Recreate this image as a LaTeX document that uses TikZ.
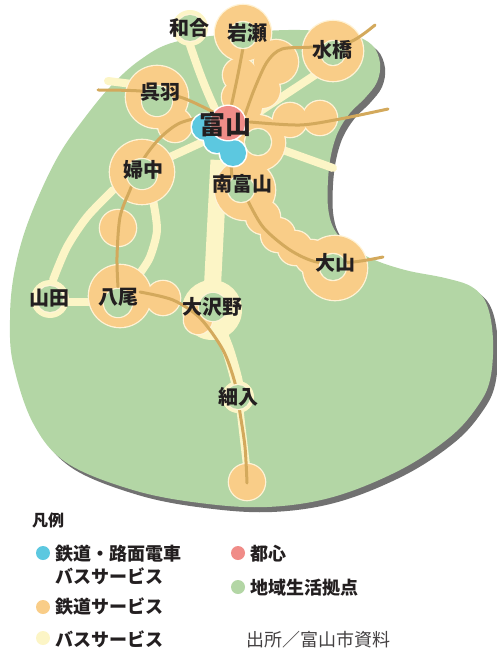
\documentclass[tikz,border=0pt]{standalone}
\usepackage{fontspec}
\setmainfont{Noto Sans CJK JP}
\definecolor{gr}{HTML}{B3D6A5}
\definecolor{og}{HTML}{F9CD88}
\definecolor{ye}{HTML}{FCF5C6}
\definecolor{tn}{HTML}{D3A95C}
\definecolor{bl}{HTML}{5CC8E0}
\definecolor{pk}{HTML}{F08C88}
\definecolor{cr}{HTML}{FFF3D6}
\definecolor{sh}{HTML}{717171}
\definecolor{tx}{HTML}{231F20}
\begin{document}
\begin{tikzpicture}[x=1pt,y=-1pt,
  bus/.style={ye,line width=8pt,line cap=round},
  rail/.style={tn,line width=3pt,line cap=round},
  lbl/.style={text=tx,font=\bfseries\fontsize{20}{20}\selectfont,inner sep=0pt},
  leg/.style={text=tx,font=\bfseries\fontsize{18}{18}\selectfont,inner sep=0pt,anchor=west},
]
\useasboundingbox (0,0) rectangle (497,652);
\def\blob{plot[smooth cycle,tension=0.6] coordinates {
 (175,42) (240,33) (300,30) (350,35) (372,45) (380,63) (377,82) (365,98)
 (350,113) (338,132) (331,155) (328,180) (328,207) (333,227) (345,242)
 (370,258) (405,270) (445,278) (472,287) (487,305) (493,340) (490,380)
 (477,407) (450,437) (400,470) (333,497) (267,507) (200,503) (133,490)
 (67,463) (33,423) (13,363) (10,320) (13,280) (23,237) (40,193) (60,153)
 (83,120) (110,87) (140,60)}}
% shadow and land
\begin{scope}[shift={(5,5)}]
 \fill[sh] \blob;
\end{scope}
\fill[gr] \blob;
% bus routes
\draw[bus] (190,45) .. controls (200,75) and (208,95) .. (218,115);
\draw[bus] (108,81) -- (140,85);
\draw[bus] (250,118) -- (318,73);
\draw[bus] (255,140) -- (333,168);
\draw[bus] (207,140) -- (170,157);
\draw[ye,line width=17pt] (219,160) -- (212,295);
\draw[bus] plot[smooth] coordinates {(113,190) (87,217) (67,247) (53,280)};
\draw[bus] (60,302) -- (95,302);
\draw[bus] plot[smooth] coordinates {(153,200) (157,230) (150,257) (140,273)};
\draw[ye,line width=12pt] plot[smooth] coordinates {(218,325) (228,350) (236,378) (239,395)};
\draw[ye,line width=7pt] (240,410) -- (247,470);
% yellow rings
\foreach \x/\y/\r in {190/28/18, 50/299/19, 212/310/30, 238/397/16}
  \fill[ye] (\x,\y) circle[radius=\r pt];
% orange circles
\def\oglist{243/33/28, 276/62/22, 240/75/17, 238/97/16, 262/90/18, 250/108/12,
 333/51/30, 290/120/17, 320/118/17, 157/97/31, 175/125/17, 142/172/32,
 118/228/18, 120/296/31, 163/298/17, 257/143/28, 245/190/30,
 263/217/17, 278/235/17, 295/248/17, 312/257/17, 335/268/32,
 198/320/14, 247/482/18}
\foreach \x/\y/\r in \oglist
  \fill[cr] (\x,\y) circle[radius={(\r+1.3)*1pt}];
\foreach \x/\y/\r in \oglist
  \fill[og] (\x,\y) circle[radius=\r pt];
% rails
\draw[rail] plot[smooth] coordinates {(98,90) (140,91) (180,97) (213,112)};
\draw[rail] (243,48) .. controls (238,75) .. (230,112);
\draw[rail] plot[smooth] coordinates {(375,25) (350,42) (313,47) (282,49) (267,62) (254,90) (245,115)};
\draw[rail] plot[smooth] coordinates {(250,122) (300,125) (340,119) (388,109)};
\draw[rail] plot[smooth] coordinates {(210,115) (180,123) (160,138) (143,160) (130,190) (120,217) (117,257) (118,287)};
\draw[rail] (229,140) -- (232,178);
\draw[rail] plot[smooth] coordinates {(246,197) (263,227) (290,250) (317,262) (353,262) (383,257)};
\draw[rail] plot[smooth] coordinates {(140,292) (173,300) (200,318) (223,350) (235,383) (240,413) (245,447) (247,483)};
% inner green
\def\grlist{190/28/13, 243/35/13, 333/53/12, 157/101/15, 142/174/15,
 258/142/13, 241/189/13, 333/267/13, 118/303/14, 50/299/13, 213/307/14, 238/397/12}
\foreach \x/\y/\r in \grlist
  \fill[cr] (\x,\y) circle[radius={(\r+1.2)*1pt}];
\foreach \x/\y/\r in \grlist
  \fill[gr] (\x,\y) circle[radius=\r pt];
% city centre
\foreach \x/\y in {205/127, 217/140, 233/153}
  \fill[white] (\x,\y) circle[radius=14.5pt];
\foreach \x/\y in {205/127, 217/140, 233/153}
  \fill[bl] (\x,\y) circle[radius=13pt];
\fill[white] (228,123) circle[radius=18.5pt];
\fill[pk] (228,123) circle[radius=17pt];
% labels
\node[lbl] (wago) at (189,28) {和合};
\node[lbl] (iwase) at (247,33) {岩瀬};
\node[lbl] (mizuhashi) at (332,50) {水橋};
\node[lbl] (kureha) at (160,92) {呉羽};
\node[lbl,font=\bfseries\fontsize{26}{26}\selectfont] (toyama) at (225,125) {富山};
\node[lbl] (fuchu) at (143,170) {婦中};
\node[lbl] (minami) at (242,184) {南富山};
\node[lbl] (oyama) at (335,263) {大山};
\node[lbl] (yamada) at (49,298) {山田};
\node[lbl] (yatsuo) at (118,297) {八尾};
\node[lbl] (osawano) at (212,307) {大沢野};
\node[lbl] (hosoiri) at (238,397) {細入};
% legend
\node[text=tx,font=\bfseries\fontsize{16}{16}\selectfont,inner sep=0pt,anchor=west] (hanrei) at (32,520) {凡例};
\fill[bl] (43,553) circle[radius=7pt];
\node[leg] (l1) at (55,554) {鉄道・路面電車};
\node[leg] (l1b) at (55,576) {バスサービス};
\fill[og] (43,607) circle[radius=7pt];
\node[leg] (l2) at (55,607) {鉄道サービス};
\fill[ye] (43,638) circle[radius=7pt];
\node[leg] (l3) at (55,639) {バスサービス};
\fill[pk] (238,553) circle[radius=7pt];
\node[leg] (l4) at (250,554) {都心};
\fill[gr] (238,587) circle[radius=7pt];
\node[leg] (l5) at (250,588) {地域生活拠点};
\node[text=tx!85,font=\fontsize{18}{18}\selectfont,inner sep=0pt,anchor=west] (src) at (246,640) {出所／富山市資料};
\end{tikzpicture}
\end{document}
